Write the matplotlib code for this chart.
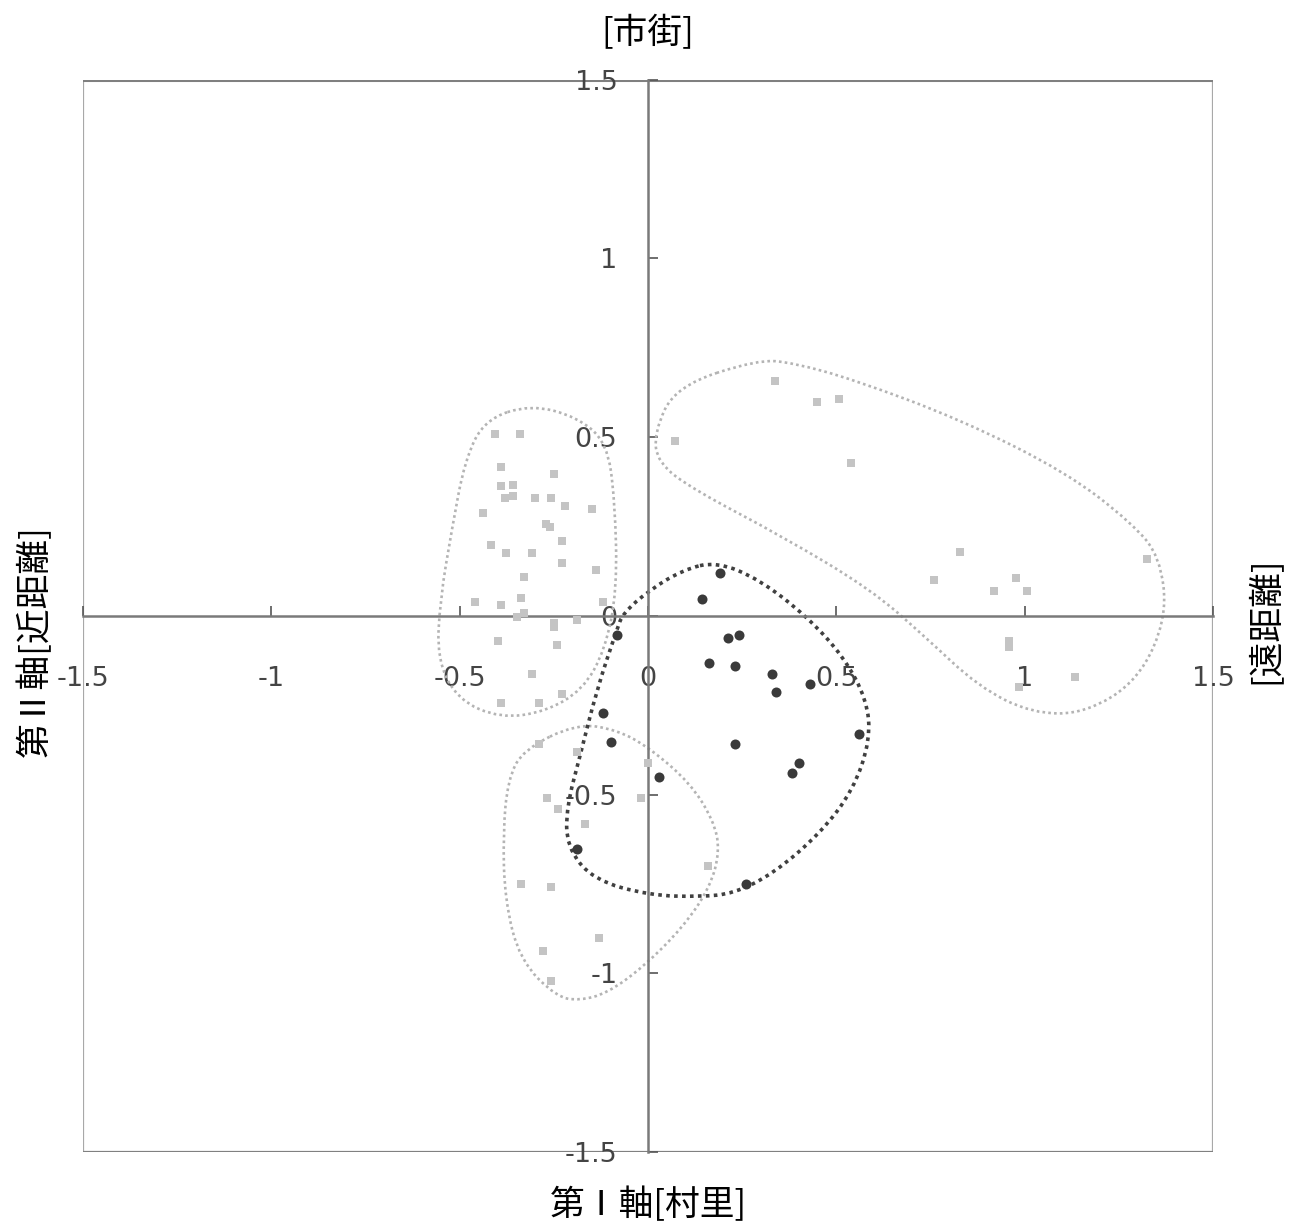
import matplotlib
matplotlib.use("Agg")
import matplotlib.pyplot as plt
import numpy as np
from matplotlib.path import Path
from matplotlib.patches import PathPatch, Rectangle

plt.rcParams['font.family'] = ['Noto Sans CJK JP', 'DejaVu Sans']
plt.rcParams['axes.unicode_minus'] = False

# light grey points (three groups)
ul_x = [-0.406, -0.340, -0.389, -0.250, -0.389, -0.359, -0.380, -0.358, -0.300, -0.258,
        -0.220, -0.150, -0.439, -0.271, -0.260, -0.418, -0.378, -0.309, -0.229, -0.229,
        -0.139, -0.329, -0.459, -0.390, -0.338, -0.120, -0.349, -0.329, -0.250, -0.250,
        -0.189, -0.399, -0.241, -0.309, -0.389, -0.290, -0.229]
ul_y = [0.509, 0.509, 0.417, 0.398, 0.362, 0.367, 0.330, 0.336, 0.330, 0.330,
        0.308, 0.300, 0.288, 0.258, 0.248, 0.199, 0.177, 0.177, 0.208, 0.148,
        0.129, 0.108, 0.040, 0.031, 0.050, 0.040, -0.002, 0.009, -0.020, -0.032,
        -0.011, -0.069, -0.081, -0.162, -0.243, -0.243, -0.218]
ll_x = [-0.289, -0.188, 0.001, -0.269, -0.238, -0.019, -0.167, 0.160, -0.338, -0.258,
        -0.129, -0.278, -0.258]
ll_y = [-0.359, -0.380, -0.411, -0.511, -0.541, -0.511, -0.583, -0.700, -0.749, -0.760,
        -0.900, -0.938, -1.022]
ur_x = [0.338, 0.449, 0.508, 0.071, 0.539, 0.828, 0.758, 1.324, 0.976, 0.918,
        1.007, 0.959, 0.959, 1.134, 0.986]
ur_y = [0.656, 0.598, 0.607, 0.488, 0.428, 0.178, 0.099, 0.159, 0.107, 0.070,
        0.070, -0.069, -0.088, -0.172, -0.200]

# dark points
dark_x = [0.191, 0.143, -0.082, 0.212, 0.242, 0.163, 0.231, 0.330, 0.340, 0.430,
          -0.119, -0.098, 0.231, 0.561, 0.402, 0.383, 0.030, -0.188, 0.260]
dark_y = [0.120, 0.048, -0.053, -0.061, -0.053, -0.131, -0.140, -0.162, -0.212, -0.191,
          -0.271, -0.352, -0.359, -0.331, -0.411, -0.441, -0.452, -0.651, -0.751]

# group outlines
ul_outline = [(-0.313, 0.591), (-0.189, 0.557), (-0.109, 0.485), (-0.088, 0.325),
              (-0.082, 0.073), (-0.114, -0.095), (-0.173, -0.207), (-0.274, -0.269),
              (-0.393, -0.286), (-0.505, -0.235), (-0.560, -0.123), (-0.552, 0.045),
              (-0.521, 0.241), (-0.486, 0.437), (-0.433, 0.549)]
ll_outline = [(-0.189, -0.301), (-0.082, -0.319), (0.005, -0.370), (0.112, -0.468),
              (0.173, -0.571), (0.191, -0.655), (0.165, -0.759), (0.093, -0.871),
              (-0.013, -0.983), (-0.109, -1.056), (-0.181, -1.076), (-0.242, -1.067),
              (-0.340, -0.964), (-0.380, -0.796), (-0.385, -0.608), (-0.372, -0.459),
              (-0.332, -0.375)]
ur_outline = [(0.291, 0.717), (0.385, 0.708), (0.546, 0.661), (0.830, 0.549),
              (1.113, 0.400), (1.284, 0.260), (1.359, 0.166), (1.378, -0.002),
              (1.303, -0.179), (1.161, -0.273), (1.019, -0.273), (0.877, -0.198),
              (0.735, -0.058), (0.593, 0.073), (0.357, 0.222), (0.121, 0.353),
              (0.026, 0.428), (0.016, 0.512), (0.073, 0.642)]
dark_outline = [(0.182, 0.152), (0.297, 0.101), (0.422, -0.002), (0.519, -0.114),
                (0.581, -0.235), (0.590, -0.347), (0.545, -0.487), (0.457, -0.609),
                (0.333, -0.721), (0.227, -0.777), (0.138, -0.786), (0.005, -0.782),
                (-0.145, -0.739), (-0.216, -0.646), (-0.216, -0.534), (-0.181, -0.394),
                (-0.136, -0.207), (-0.083, -0.039), (-0.066, 0.008), (0.005, 0.073),
                (0.094, 0.129)]

ticks = [-1.5, -1, -0.5, 0, 0.5, 1, 1.5]
tick_labels = ['-1.5', '-1', '-0.5', '0', '0.5', '1', '1.5']


def smooth_outline(pts):
    # closed quadratic bezier through midpoints of the given points
    p = np.array(pts)
    mids = (p + np.roll(p, -1, axis=0)) / 2
    verts = [mids[-1]]
    codes = [Path.MOVETO]
    for i in range(len(p)):
        verts += [p[i], mids[i]]
        codes += [Path.CURVE3, Path.CURVE3]
    return Path(verts, codes)


fig = plt.figure(figsize=(12.91, 12.28), dpi=100)
ax = fig.add_axes([0.0643, 0.0619, 0.8753, 0.8732])
ax.set_xlim(-1.5, 1.5)
ax.set_ylim(-1.5, 1.5)

for name in ['top', 'right']:
    ax.spines[name].set_visible(False)
for name in ['left', 'bottom']:
    ax.spines[name].set_position(('data', 0))
    ax.spines[name].set_color('#7a7a7a')
    ax.spines[name].set_linewidth(1.8)
ax.add_patch(Rectangle((0, 0), 1, 1, transform=ax.transAxes, fill=False,
                       edgecolor='#a8a8a8', linewidth=1.6, zorder=0))
# darker top / bottom edges of the frame
ax.axhline(1.5, color='#808080', linewidth=2.2, zorder=0)
ax.axhline(-1.5, color='#808080', linewidth=2.2, zorder=0)

ax.set_xticks(ticks)
ax.set_xticklabels(tick_labels)
ax.set_yticks(ticks)
ax.set_yticklabels(tick_labels)
ax.tick_params(axis='x', direction='in', length=7, width=1.2, color='#555555',
               pad=36, labelsize=19.5, labelcolor='#444444')
ax.tick_params(axis='y', direction='in', length=7, width=1.2, color='#555555',
               pad=22, labelsize=19.5, labelcolor='#444444')
for lab in ax.get_xticklabels() + ax.get_yticklabels():
    lab.set_fontfamily('DejaVu Sans')

for outline, col, lw in [(ul_outline, '#b4b4b4', 1.9), (ll_outline, '#b4b4b4', 1.9),
                         (ur_outline, '#b4b4b4', 1.9), (dark_outline, '#404040', 2.6)]:
    ax.add_patch(PathPatch(smooth_outline(outline), fill=False, edgecolor=col,
                           linewidth=lw, linestyle=(0, (1, 1.2)), zorder=2))

grey_x = ul_x + ll_x + ur_x
grey_y = ul_y + ll_y + ur_y
ax.scatter(grey_x, grey_y, s=36, marker='s', color='#c4c4c4', linewidths=0, zorder=3)
ax.scatter(dark_x, dark_y, s=52, marker='o', color='#3a3a3a', linewidths=0, zorder=4)

fig.text(0.502, 0.973, '[市街]', ha='center', va='center', fontsize=25)
fig.text(0.502, 0.018, '第Ⅰ軸[村里]', ha='center', va='center', fontsize=25)
fig.text(0.027, 0.478, '第Ⅱ軸[近距離]', ha='center', va='center', fontsize=25,
         rotation=90)
fig.text(0.980, 0.495, '[遠距離]', ha='center', va='center', fontsize=25,
         rotation=90)

fig.savefig("out.png", dpi=100)
